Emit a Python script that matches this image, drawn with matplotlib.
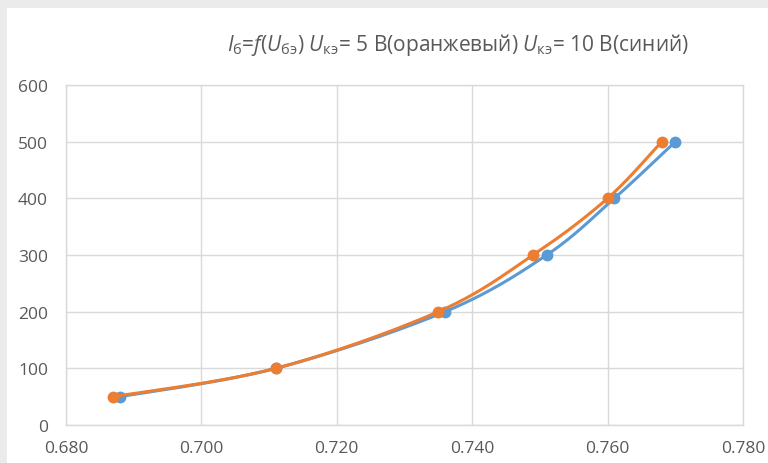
import numpy as np
import matplotlib
matplotlib.use("Agg")
from matplotlib import pyplot as plt
from matplotlib.patches import Rectangle

##### data
u_be_10 = [0.688, 0.711, 0.736, 0.751, 0.761, 0.770]   # Uкэ = 10 В (синий)
i_b_10 = [50, 100, 200, 300, 400, 500]
u_be_5 = [0.687, 0.711, 0.735, 0.749, 0.760, 0.768]    # Uкэ = 5 В (оранжевый)
i_b_5 = [50, 100, 200, 300, 400, 500]

x_ticks = [0.680, 0.700, 0.720, 0.740, 0.760, 0.780]
y_ticks = [0, 100, 200, 300, 400, 500, 600]

blue = "#5B9BD5"
orange = "#ED7D31"
grid_col = "#D9D9D9"
text_col = "#595959"

plt.rcParams["font.family"] = ["Open Sans", "DejaVu Sans"]
plt.rcParams["mathtext.fontset"] = "custom"
plt.rcParams["mathtext.rm"] = "Open Sans"
plt.rcParams["mathtext.it"] = "Open Sans:italic"


def excel_smooth(xs, ys, sx, sy, n=40):
    # bezier smoothing like excel, done in screen-ish units
    px = np.asarray(xs) * sx
    py = np.asarray(ys) * sy
    pts = np.column_stack([px, py])
    pts = np.vstack([pts[0], pts, pts[-1]])
    out = []
    t = np.linspace(0, 1, n)[:, None]
    for i in range(1, len(pts) - 2):
        p0, p1 = pts[i], pts[i + 1]
        c1 = p0 + (pts[i + 1] - pts[i - 1]) / 6.0
        c2 = p1 - (pts[i + 2] - pts[i]) / 6.0
        seg = (1 - t) ** 3 * p0 + 3 * (1 - t) ** 2 * t * c1 + 3 * (1 - t) * t ** 2 * c2 + t ** 3 * p1
        out.append(seg)
    out = np.vstack(out)
    return out[:, 0] / sx, out[:, 1] / sy


fig = plt.figure(figsize=(7.68, 4.64), dpi=100, facecolor="#EBEBEB")
fig.patches.append(Rectangle((7 / 768, 0), 1, 1 - 9 / 464, transform=fig.transFigure,
                             facecolor="white", edgecolor="none", zorder=-5))

ax = fig.add_axes([66 / 768, 38 / 464, 677 / 768, 340 / 464])
ax.set_zorder(1)
ax.set_facecolor("white")

sx = 677 / 0.1
sy = 340 / 600.0

xb, yb = excel_smooth(u_be_10, i_b_10, sx, sy)
ax.plot(xb, yb, color=blue, lw=2.2, solid_capstyle="round", zorder=3)
ax.plot(u_be_10, i_b_10, "o", color=blue, ms=7.5, zorder=4)

xo, yo = excel_smooth(u_be_5, i_b_5, sx, sy)
ax.plot(xo, yo, color=orange, lw=2.2, solid_capstyle="round", zorder=5)
ax.plot(u_be_5, i_b_5, "o", color=orange, ms=7.5, zorder=6)

ax.set_xlim(0.680, 0.780)
ax.set_ylim(0, 600)
ax.set_xticks(x_ticks)
ax.set_xticklabels(["%.3f" % v for v in x_ticks])
ax.set_yticks(y_ticks)
ax.set_yticklabels([str(v) for v in y_ticks])
ax.grid(True, color=grid_col, lw=1.0)
ax.set_axisbelow(True)
for s in ax.spines.values():
    s.set_color(grid_col)
    s.set_linewidth(1.0)
ax.tick_params(length=0, colors=text_col, labelsize=12.5)
ax.tick_params(axis="y", pad=13)
ax.tick_params(axis="x", pad=11)

title = (r"$I_\mathrm{б}$=$f$($U_\mathrm{бэ}$) $U_\mathrm{кэ}$= 5 В(оранжевый) "
         r"$U_\mathrm{кэ}$= 10 В(синий)")
fig.text(458 / 768, 1 - 45 / 464, title, ha="center", va="center",
         fontsize=15, color=text_col)

fig.savefig("out.png", dpi=100, facecolor=fig.get_facecolor())
